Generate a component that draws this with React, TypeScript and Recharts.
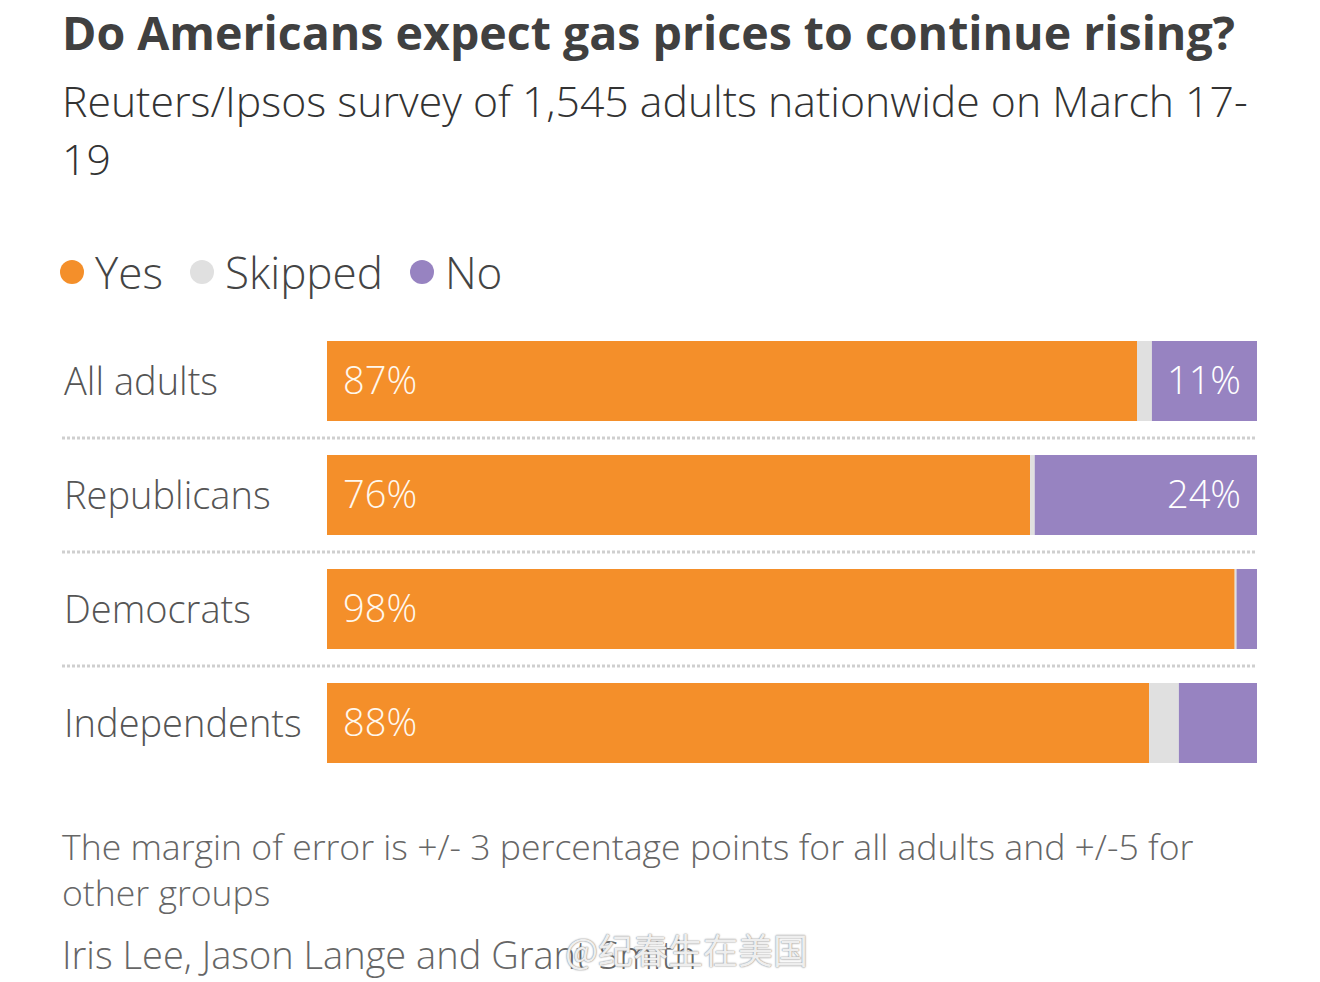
import React from "react";
import { BarChart, Bar, XAxis, YAxis, Legend, LabelList } from "recharts";

const categories = ["All adults", "Republicans", "Democrats", "Independents"];
const yesValues = [87.1, 75.6, 97.6, 88.4];
const skippedValues = [1.6, 0.5, 0.2, 3.2];
const noValues = [11.3, 23.9, 2.2, 8.4];

const seriesNames = ["Yes", "Skipped", "No"];
const seriesColors = ["#F48F2A", "#E0E0E0", "#9783C1"];

const data = categories.map((name, i) => ({
  name,
  yes: yesValues[i],
  skipped: skippedValues[i],
  no: noValues[i],
}));

const FONT = "'Open Sans', 'Noto Sans', sans-serif";

const CategoryTick = (props: any) => {
  const { y, payload, index } = props;
  return (
    <g>
      <text x={64} y={y} dy={14} fill="#555" fontSize={38} fontWeight={300} fontFamily={FONT} textAnchor="start">
        {payload.value}
      </text>
      {index < categories.length - 1 && (
        <line x1={62} x2={1257} y1={y + 57} y2={y + 57} stroke="#cfcfcf" strokeWidth={3} strokeDasharray="3 2" />
      )}
    </g>
  );
};

const renderLegend = (props: any) => {
  const payload = [...(props.payload || [])].sort(
    (a: any, b: any) => seriesNames.indexOf(a.value) - seriesNames.indexOf(b.value)
  );
  return (
    <div style={{ display: "flex", alignItems: "center", fontFamily: FONT }}>
      {payload.map((entry: any, i: number) => (
        <div key={i} style={{ display: "flex", alignItems: "center", marginRight: 27 }}>
          <span style={{ width: 24, height: 24, borderRadius: 12, background: entry.color, display: "inline-block", marginRight: 11 }} />
          <span style={{ fontSize: 44, color: "#444", fontWeight: 300, lineHeight: "50px" }}>{entry.value}</span>
        </div>
      ))}
    </div>
  );
};

const pct = (v: any) => `${Math.round(Number(v))}%`;
const noLabel = (v: any) => (Number(v) >= 10 ? `${Math.round(Number(v))}%` : "");

export default function App() {
  return (
    <div style={{ position: "absolute", left: 0, top: 0, width: 1320, height: 982, background: "#fff", overflow: "hidden", fontFamily: FONT }}>
      <div style={{ position: "absolute", left: 62, top: 0, fontSize: 46.5, lineHeight: "64px", fontWeight: 700, color: "#404040", whiteSpace: "nowrap" }}>
        Do Americans expect gas prices to continue rising?
      </div>
      <div style={{ position: "absolute", left: 62, top: 72, fontSize: 42.75, lineHeight: "58px", fontWeight: 300, color: "#333", whiteSpace: "nowrap" }}>
        Reuters/Ipsos survey of 1,545 adults nationwide on March 17-
        <br />
        19
      </div>
      <div style={{ position: "absolute", left: 0, top: 0 }}>
        <BarChart width={1320} height={982} data={data} layout="vertical" margin={{ top: 324, right: 63, bottom: 150, left: 0 }} barSize={80}>
          <XAxis type="number" domain={[0, 100]} hide />
          <YAxis type="category" dataKey="name" width={327} axisLine={false} tickLine={false} tick={<CategoryTick />} interval={0} />
          <Legend
            content={renderLegend}
            wrapperStyle={{ position: "absolute", top: 247, left: 60, width: "auto", height: 52 }}
          />
          <Bar dataKey="yes" name={seriesNames[0]} stackId="a" fill={seriesColors[0]} isAnimationActive={false}>
            <LabelList dataKey="yes" position="insideLeft" offset={16} formatter={pct} fill="#fff8ee" fontSize={38} fontWeight={300} fontFamily={FONT} />
          </Bar>
          <Bar dataKey="skipped" name={seriesNames[1]} stackId="a" fill={seriesColors[1]} isAnimationActive={false} />
          <Bar dataKey="no" name={seriesNames[2]} stackId="a" fill={seriesColors[2]} isAnimationActive={false}>
            <LabelList dataKey="no" position="insideRight" offset={16} formatter={noLabel} fill="#fff" fontSize={38} fontWeight={300} fontFamily={FONT} />
          </Bar>
        </BarChart>
      </div>
      <div style={{ position: "absolute", left: 62, top: 823, fontSize: 35.6, lineHeight: "46px", fontWeight: 300, color: "#666", whiteSpace: "nowrap" }}>
        The margin of error is +/- 3 percentage points for all adults and +/-5 for
        <br />
        other groups
      </div>
      <div style={{ position: "absolute", left: 62, top: 931, fontSize: 38, lineHeight: "46px", fontWeight: 300, color: "#666", whiteSpace: "nowrap" }}>
        Iris Lee, Jason Lange and Grant Smith
      </div>
      <div style={{ position: "absolute", left: 565, top: 926, fontSize: 35, lineHeight: "46px", color: "rgba(255,255,255,0.85)", whiteSpace: "nowrap", fontFamily: "'Noto Sans CJK SC', sans-serif", textShadow: "0 0 2px #999, 0 0 1px #888" }}>
        @纪春生在美国
      </div>
    </div>
  );
}
